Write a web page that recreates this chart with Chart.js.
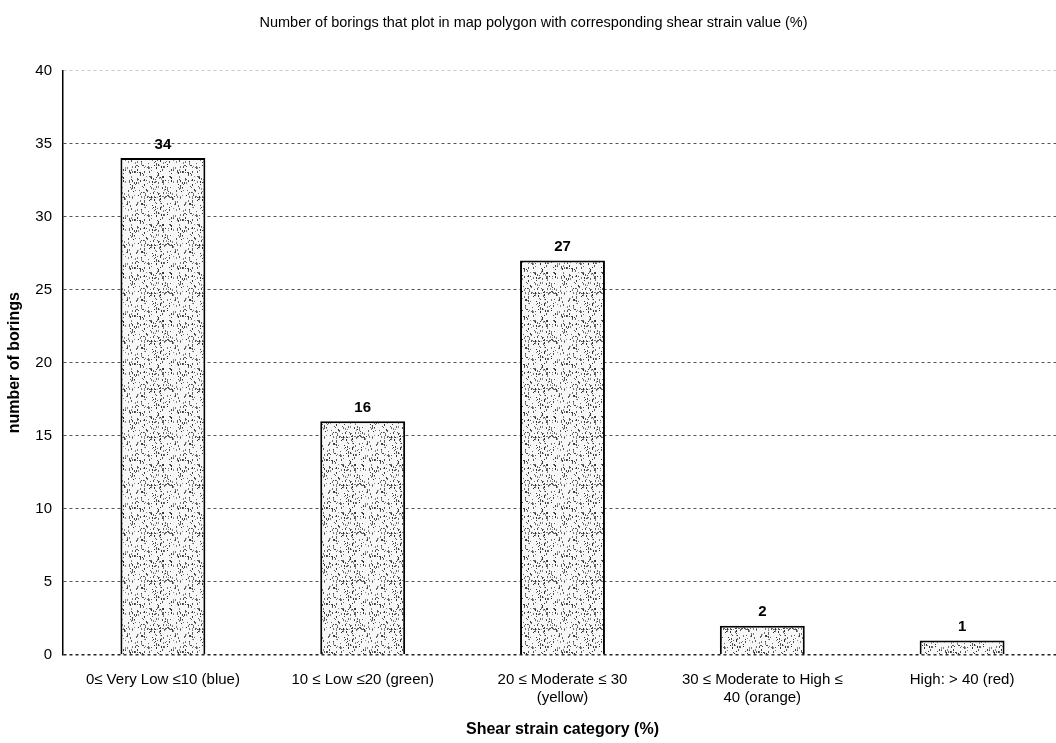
<!DOCTYPE html>
<html>
<head>
<meta charset="utf-8">
<script src="https://cdn.jsdelivr.net/npm/chart.js@4.4.1/dist/chart.umd.min.js"></script>
<style>
  html, body { margin: 0; padding: 0; background: #fff; overflow: hidden; }
  #wrap { width: 1062px; height: 743px; }
</style>
</head>
<body>
<div id="wrap"><canvas id="borings"></canvas></div>
<script>
const categories = [
  '0≤ Very Low ≤10 (blue)',
  '10 ≤ Low ≤20 (green)',
  ['20 ≤ Moderate ≤ 30', '(yellow)'],
  ['30 ≤ Moderate to High ≤', '40 (orange)'],
  'High: > 40 (red)'
]
const boringCounts = [34, 16, 27, 2, 1]
const yTicks = [0, 5, 10, 15, 20, 25, 30, 35, 40]

const FONT = '"Liberation Sans", Arial, sans-serif'

// stippled grey fill, like the printed original
function stipple() {
  const c = document.createElement('canvas')
  c.width = 48; c.height = 48
  const g = c.getContext('2d')
  g.fillStyle = '#f7f7f7'
  g.fillRect(0, 0, 48, 48)
  let s = 7
  const next = () => { s = (s * 9301 + 49297) % 233280; return s / 233280 }
  for (let i = 0; i < 260; i++) {
    const shade = 40 + Math.floor(next() * 110)
    g.fillStyle = `rgb(${shade},${shade},${shade})`
    g.fillRect(Math.floor(next() * 48), Math.floor(next() * 48), 1, 1 + Math.floor(next() * 2))
  }
  return g.createPattern(c, 'repeat')
}

const valueLabels = {
  id: 'valueLabels',
  afterDatasetsDraw(chart) {
    const ctx = chart.ctx
    const meta = chart.getDatasetMeta(0)
    ctx.save()
    ctx.font = 'bold 15px ' + FONT
    ctx.fillStyle = '#000'
    ctx.textAlign = 'center'
    ctx.textBaseline = 'bottom'
    meta.data.forEach((bar, i) => {
      ctx.fillText(boringCounts[i], bar.x, bar.y - 6)
    })
    ctx.restore()
  }
}

new Chart(document.getElementById('borings'), {
  type: 'bar',
  data: {
    labels: categories,
    datasets: [{
      data: boringCounts,
      backgroundColor: stipple(),
      borderColor: '#000',
      borderWidth: 2,
      barPercentage: 0.85,
      categoryPercentage: 0.5
    }]
  },
  options: {
    responsive: true,
    maintainAspectRatio: false,
    animation: false,
    layout: { padding: { left: 5, right: 0, top: 0, bottom: 4 } },
    plugins: {
      legend: { display: false },
      tooltip: { enabled: false },
      title: {
        display: true,
        text: 'Number of borings that plot in map polygon with corresponding shear strain value (%)',
        color: '#000',
        font: { family: FONT, size: 14.5, weight: 'normal' },
        padding: { top: 14, bottom: 39 }
      }
    },
    scales: {
      y: {
        min: 0,
        max: 40,
        afterBuildTicks(scale) { scale.ticks = yTicks.map(v => ({ value: v })) },
        afterFit(scale) { scale.width = 58 },
        ticks: {
          color: '#000',
          padding: 11,
          font: { family: FONT, size: 15 }
        },
        grid: {
          drawTicks: false,
          color: c => c.tick && c.tick.value === 0 ? '#222' : (c.tick && c.tick.value === 40 ? '#c8c8c8' : '#555'),
          lineWidth: c => c.tick && c.tick.value === 0 ? 1.5 : 1
        },
        border: { display: true, color: '#000', width: 1.5, dash: [3, 3] },
        title: {
          display: true,
          text: 'number of borings',
          color: '#000',
          font: { family: FONT, size: 16, weight: 'bold' },
          padding: { top: 0, bottom: 0 }
        }
      },
      x: {
        afterFit(scale) { scale.height = 84 },
        ticks: {
          color: '#000',
          maxRotation: 0,
          autoSkip: false,
          padding: 16,
          font: { family: FONT, size: 15 }
        },
        grid: { display: false, drawTicks: false },
        border: { display: false },
        title: {
          display: true,
          text: 'Shear strain category (%)',
          color: '#000',
          font: { family: FONT, size: 16, weight: 'bold' },
          padding: { top: 0, bottom: 0 }
        }
      }
    }
  },
  plugins: [valueLabels]
})
</script>
</body>
</html>
